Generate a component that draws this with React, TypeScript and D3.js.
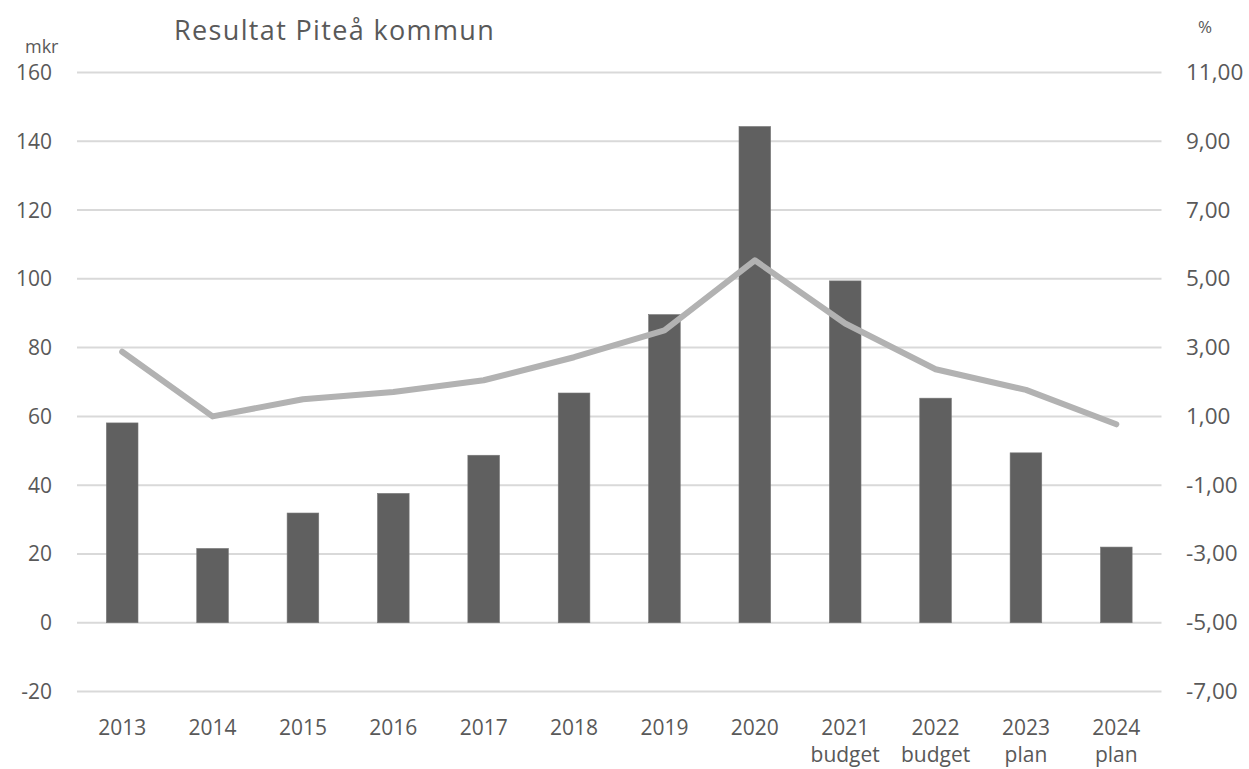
import React from "react";
import * as d3 from "d3";

const categories = ["2013", "2014", "2015", "2016", "2017", "2018", "2019", "2020", "2021", "2022", "2023", "2024"];
const subLabels = ["", "", "", "", "", "", "", "", "budget", "budget", "plan", "plan"];
const resultMkr = [58.1, 21.6, 31.9, 37.6, 48.7, 66.8, 89.6, 144.3, 99.4, 65.3, 49.4, 22.0];
const resultPct = [2.88, 1.0, 1.5, 1.71, 2.05, 2.72, 3.5, 5.54, 3.7, 2.37, 1.77, 0.77];
const leftTicks = [-20, 0, 20, 40, 60, 80, 100, 120, 140, 160];
const rightTicks = [-7, -5, -3, -1, 1, 3, 5, 7, 9, 11];

const W = 1249;
const H = 769;
const plotLeft = 77;
const plotRight = 1161.5;
const plotTop = 72.5;
const plotBottom = 691.5;
const FONT = "'Open Sans', sans-serif";
const TXT = "#595959";

export default function App() {
  const x = d3.scaleBand<string>().domain(categories).range([plotLeft, plotRight]).paddingInner(0.65).paddingOuter(0.325);
  const yL = d3.scaleLinear().domain([-20, 160]).range([plotBottom, plotTop]);
  const yR = d3.scaleLinear().domain([-7, 11]).range([plotBottom, plotTop]);
  const line = d3
    .line<number>()
    .x((_, i) => (x(categories[i]) as number) + x.bandwidth() / 2)
    .y((d) => yR(d));
  const fmt = (v: number) => v.toFixed(2).replace(".", ",");

  return (
    <svg width={W} height={H} style={{ position: "absolute", left: 0, top: 0, background: "#fff" }}>
      <rect x={0} y={0} width={W} height={H} fill="#fff" />
      {leftTicks.map((t) => (
        <line key={"g" + t} x1={plotLeft} x2={plotRight} y1={yL(t)} y2={yL(t)} stroke="#d9d9d9" strokeWidth={2} />
      ))}
      {categories.map((c, i) => (
        <rect
          key={"b" + c}
          x={x(c)}
          y={yL(resultMkr[i])}
          width={x.bandwidth()}
          height={yL(0) - yL(resultMkr[i])}
          fill="#606060"
          stroke="#777"
          strokeWidth={0.6}
        />
      ))}
      <path d={line(resultPct) || ""} fill="none" stroke="#b2b2b2" strokeWidth={6} strokeLinejoin="round" strokeLinecap="round" />
      {leftTicks.map((t) => (
        <text key={"l" + t} x={52} y={yL(t) + 7.5} textAnchor="end" fontFamily={FONT} fontSize={21} fill={TXT}>
          {t}
        </text>
      ))}
      {rightTicks.map((t) => (
        <text key={"r" + t} x={1186} y={yR(t) + 7.5} textAnchor="start" fontFamily={FONT} fontSize={22.5} fill={TXT}>
          {fmt(t)}
        </text>
      ))}
      {categories.map((c, i) => {
        const cx = (x(c) as number) + x.bandwidth() / 2;
        return (
          <g key={"x" + c}>
            <text x={cx} y={735} textAnchor="middle" fontFamily={FONT} fontSize={21} fill={TXT}>
              {c}
            </text>
            {subLabels[i] && (
              <text x={cx} y={762} textAnchor="middle" fontFamily={FONT} fontSize={21} fill={TXT}>
                {subLabels[i]}
              </text>
            )}
          </g>
        );
      })}
      <text x={25} y={53} fontFamily={FONT} fontSize={18} fill={TXT}>
        mkr
      </text>
      <text x={1198} y={33} fontFamily={FONT} fontSize={17} fill={TXT}>
        %
      </text>
      <text x={174} y={40} fontFamily={FONT} fontSize={27} letterSpacing={1.35} fill={TXT}>
        Resultat Piteå kommun
      </text>
    </svg>
  );
}
